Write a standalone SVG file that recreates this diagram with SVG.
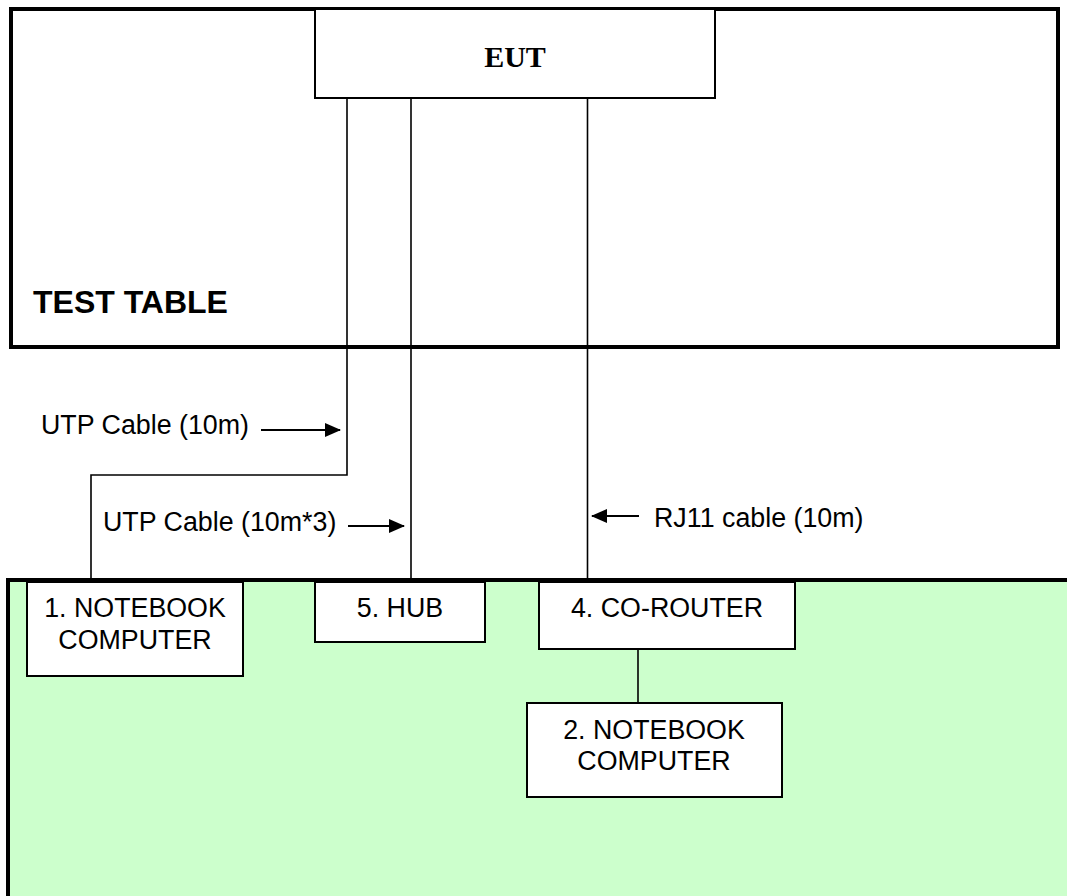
<svg xmlns="http://www.w3.org/2000/svg" width="1067" height="896" viewBox="0 0 1067 896">
<style>
.box{fill:#fff;stroke:#000;stroke-width:2}
.lbl{font-family:"Liberation Sans",Arial,sans-serif;font-size:26.8px;fill:#000}
.c{text-anchor:middle}
.wire{fill:none;stroke:#000;stroke-width:1.6}
</style>
<defs>
<marker id="ah" markerWidth="16" markerHeight="14" refX="15" refY="7" orient="auto" markerUnits="userSpaceOnUse">
<path d="M0,0 L16,7 L0,14 Z" fill="#000"/>
</marker>
</defs>
<rect width="1067" height="896" fill="#fff"/>
<g id="test-table">
<rect x="11" y="9" width="1047" height="338" fill="#fff" stroke="#000" stroke-width="4"/>
<text x="33" y="313" font-family="'Liberation Sans',Arial,sans-serif" font-weight="bold" font-size="32" fill="#000">TEST TABLE</text>
</g>
<g id="ground-area">
<rect x="8" y="580" width="1080" height="340" fill="#CCFFCC" stroke="#000" stroke-width="4"/>
</g>
<g id="eut">
<rect class="box" x="315" y="9" width="400" height="89"/>
<text x="515" y="67" text-anchor="middle" font-family="'Liberation Serif','Times New Roman',serif" font-weight="bold" font-size="30" fill="#000">EUT</text>
</g>
<g id="connectors">
<polyline class="wire" stroke-width="2" points="347,98 347,475 91,475 91,582"/>
<line class="wire" x1="411" y1="98" x2="411" y2="582"/>
<line class="wire" x1="587.5" y1="98" x2="587.5" y2="582"/>
<line class="wire" x1="638" y1="649" x2="638" y2="703"/>
<line stroke="#000" stroke-width="2" x1="261" y1="430" x2="340" y2="430" marker-end="url(#ah)"/>
<line stroke="#000" stroke-width="2" x1="348" y1="526" x2="404" y2="526" marker-end="url(#ah)"/>
<line stroke="#000" stroke-width="2" x1="639" y1="516" x2="592" y2="516" marker-end="url(#ah)"/>
<text class="lbl" x="41" y="434">UTP Cable (10m)</text>
<text class="lbl" x="103" y="531">UTP Cable (10m*3)</text>
<text class="lbl" x="654" y="527">RJ11 cable (10m)</text>
</g>
<g id="notebook1">
<rect class="box" x="27" y="582" width="216" height="94"/>
<text class="lbl c" x="135" y="617">1. NOTEBOOK</text>
<text class="lbl c" x="135" y="649">COMPUTER</text>
</g>
<g id="hub">
<rect class="box" x="315" y="582" width="170" height="60"/>
<text class="lbl c" x="400" y="617">5. HUB</text>
</g>
<g id="co-router">
<rect class="box" x="539" y="582" width="256" height="67"/>
<text class="lbl c" x="667" y="617">4. CO-ROUTER</text>
</g>
<g id="notebook2">
<rect class="box" x="527" y="703" width="255" height="94"/>
<text class="lbl c" x="654" y="739">2. NOTEBOOK</text>
<text class="lbl c" x="654" y="770">COMPUTER</text>
</g>
</svg>
